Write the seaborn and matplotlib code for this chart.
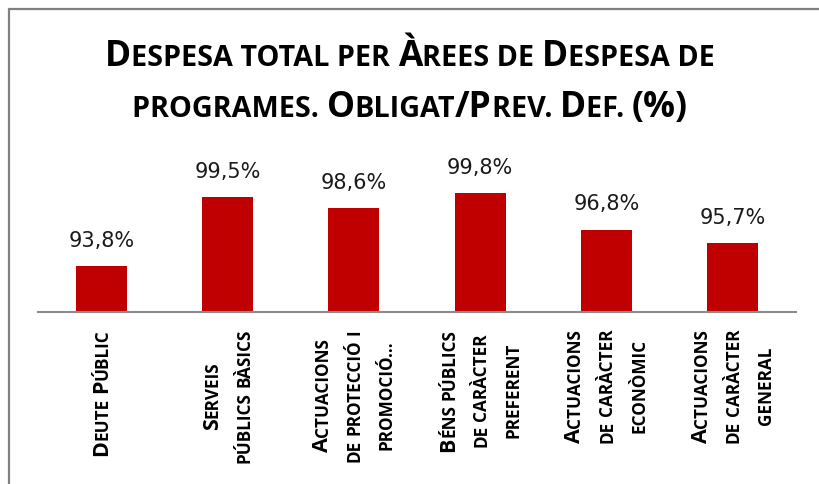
import matplotlib
matplotlib.use("Agg")
import matplotlib.pyplot as plt
import seaborn as sns
import pandas as pd
from matplotlib.offsetbox import TextArea, HPacker, AnnotationBbox
from matplotlib.lines import Line2D
from matplotlib.patches import Rectangle

categories = [
    "Deute Públic",
    "Serveis\npúblics bàsics",
    "Actuacions\nde protecció i\npromoció...",
    "Béns públics\nde caràcter\npreferent",
    "Actuacions\nde caràcter\neconòmic",
    "Actuacions\nde caràcter\ngeneral",
]
values = [93.8, 99.5, 98.6, 99.8, 96.8, 95.7]
title_lines = ["Despesa total per Àrees de Despesa de",
               "programes. Obligat/Prev. Def. (%)"]

sns.set_theme(style="white")
plt.rcParams['font.family'] = ['DejaVu Sans']

W, H = 820, 484
fig = plt.figure(figsize=(W / 100, H / 100), dpi=100)
fig.patch.set_facecolor("white")
fig.patch.set_edgecolor("white")
fig.patch.set_linewidth(0)

ax_left, ax_right, ax_bottom, ax_top = 38.4, 795.6, 312, 166.8
ax = fig.add_axes([ax_left / W, (H - ax_bottom) / H,
                   (ax_right - ax_left) / W, (ax_bottom - ax_top) / H])

df = pd.DataFrame({"cat": categories, "val": values})
sns.barplot(data=df, x="cat", y="val", color="#C00000", width=0.404,
            saturation=1, ax=ax, edgecolor="none")
ax.set_ylim(90, 102)
ax.set_xlim(-0.5, len(categories) - 0.5)
ax.set_xlabel("")
ax.set_ylabel("")
ax.set_yticks([])
for s in ["top", "right", "left"]:
    ax.spines[s].set_visible(False)
ax.spines["bottom"].set_color("#8C8C8C")
ax.spines["bottom"].set_linewidth(1.5)

labels = [f"{v:.1f}%".replace(".", ",") for v in values]
ax.bar_label(ax.containers[0], labels=labels, padding=11, fontsize=15,
             color="#1a1a1a", family="DejaVu Sans")

ax.set_xticks(range(len(categories)))
ax.set_xticklabels([])
ax.tick_params(axis="x", length=0)


def runs_of(s, split_spaces=False):
    runs = []
    for ch in s:
        if split_spaces and ch == " ":
            runs.append([" ", None])
            continue
        is_big = not ch.islower() and ch != " " and ch != "."
        if runs and runs[-1][1] == is_big:
            runs[-1][0] += ch.upper()
        else:
            runs.append([ch.upper(), is_big])
    return runs


def smallcaps(s, big, small, family="Open Sans", weight="bold"):
    kids = [TextArea(t, textprops=dict(fontsize=big if b else small,
                                         fontweight=weight, family=family,
                                         color="black"))
            for t, b in runs_of(s)]
    return HPacker(children=kids, align="baseline", pad=0, sep=0)


for line, y in zip(title_lines, [57, 108]):
    box = smallcaps(line, 25.5, 20.7)
    ab = AnnotationBbox(box, (410, H - y), xycoords="figure pixels",
                        box_alignment=(0.5, 0.5), frameon=False)
    fig.add_artist(ab)

# rotated small-caps category labels under the axis
renderer = fig.canvas.get_renderer()
LBL_BIG, LBL_SMALL, LBL_FAM = 15.5, 12.3, "Open Sans"
cap_px = 0.714 * LBL_SMALL * 100 / 72


def twidth(t, size):
    tx = fig.text(0, 0, t, fontsize=size, family=LBL_FAM, fontweight="bold")
    w = tx.get_window_extent(renderer).width
    tx.remove()
    return w


space_w = twidth("E E", LBL_SMALL) - twidth("EE", LBL_SMALL)

top_y = H - 329
line_gap = 32
for i, cat in enumerate(categories):
    cx = ax.transData.transform((i, 90))[0]
    lines = cat.split("\n")
    n = len(lines)
    info = []
    for ln in lines:
        rs = runs_of(ln, split_spaces=True)
        ws = [space_w if b is None else twidth(t, LBL_BIG if b else LBL_SMALL)
              for t, b in rs]
        info.append((rs, ws, sum(ws)))
    L = max(x[2] for x in info)
    for j, (rs, ws, Lj) in enumerate(info):
        bx = cx + (j - (n - 1) / 2) * line_gap + cap_px / 2
        y = top_y - (L + Lj) / 2
        for (t, b), w in zip(rs, ws):
            if b is not None:
                fig.text(bx / W, y / H, t, rotation=90, rotation_mode="anchor",
                         ha="left", va="baseline",
                         fontsize=LBL_BIG if b else LBL_SMALL,
                         family=LBL_FAM, fontweight="bold", color="black")
            y += w

# outer chart border (left and top edges visible)
bx0, by0 = 8.5, 8.5
fig.add_artist(Line2D([bx0 / W, bx0 / W], [0, 1 - by0 / H],
                      transform=fig.transFigure, color="#808080", lw=1.6))
fig.add_artist(Line2D([bx0 / W, 1.01], [1 - by0 / H, 1 - by0 / H],
                      transform=fig.transFigure, color="#808080", lw=1.6))
fig.add_artist(Rectangle((1 - 6 / W, 0), 10 / W, 1 - 12 / H,
                         transform=fig.transFigure, facecolor="white",
                         edgecolor="none", zorder=10))

fig.savefig("out.png", dpi=100)
